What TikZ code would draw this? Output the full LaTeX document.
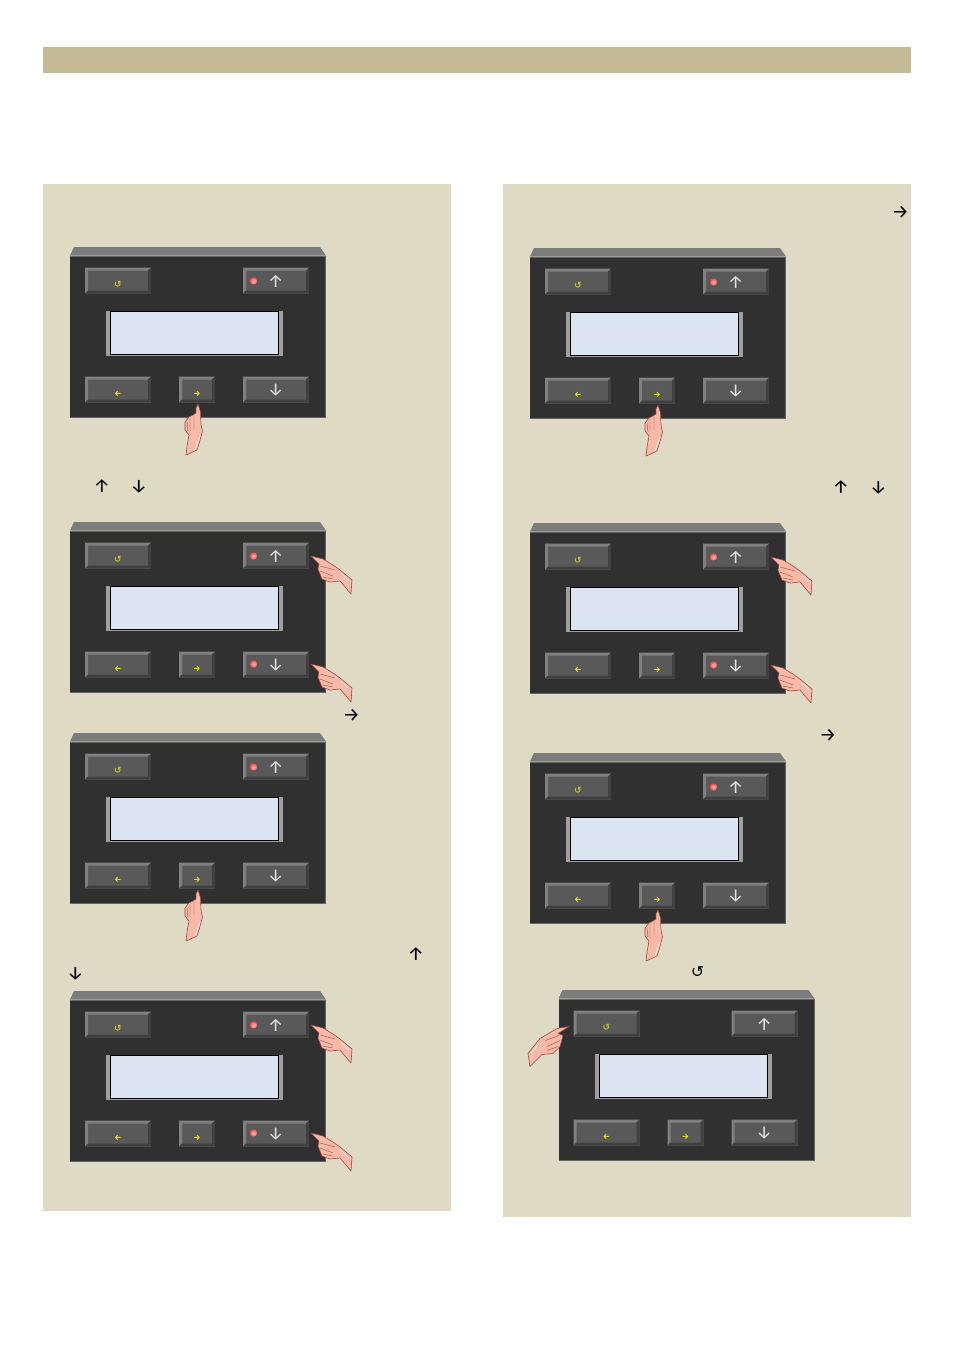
\documentclass[tikz,border=0pt]{standalone}
\usepackage{amssymb, amsmath}
\usepackage{fontspec}
\usepackage{tikz}
\newfontfamily\symfont{DejaVu Sans}
\newfontfamily\arrfont{Fira Sans}

\definecolor{barcol}{HTML}{C4BB96}
\definecolor{pagecol}{HTML}{DEDAC3}
\definecolor{bodycol}{HTML}{303030}
\definecolor{lidcol}{HTML}{7C7C7C}
\definecolor{facecol}{HTML}{595959}
\definecolor{lightcol}{HTML}{7F7F7F}
\definecolor{darkcol}{HTML}{404040}
\definecolor{lcdcol}{HTML}{DBE5F1}
\definecolor{skincol}{HTML}{F7B9A8}
\definecolor{nailcol}{HTML}{A4483C}

\tikzset{
  sheet/.style={fill=pagecol, draw=none},
  keyglyph/.style={inner sep=0pt, text=white!88!black, font=\arrfont\fontsize{18}{18}\selectfont},
  yelglyph/.style={inner sep=0pt, text=yellow!92!black, font=\arrfont\bfseries\fontsize{8}{8}\selectfont},
  relglyph/.style={inner sep=0pt, text=yellow!78!black, font=\symfont\bfseries\fontsize{9}{9}\selectfont},
  txtglyph/.style={inner sep=0pt, text=black, font=\arrfont\fontsize{19}{19}\selectfont},
  backglyph/.style={inner sep=0pt, text=black, font=\symfont\fontsize{16}{16}\selectfont},
  skin/.style={fill=skincol, draw=nailcol, line width=0.6pt, line join=round},
  crease/.style={draw=nailcol, line width=0.4pt},
  pics/handup/.style={code={
    \draw[skin] (0,0) -- (2.5,8) -- (3,20) -- (4.5,27) -- (1,40) -- (-1,46) -- (-12,51) -- (-11,42) -- (-9,31) -- (-13,26) -- (-13,18) -- (-9,13) -- (-5,11) -- (-2,9) -- (-2,4) -- cycle;
    \draw[crease] (-8,14) -- (-8,27) (-11,18) -- (-10,27) (-4,12) -- (-4,25);
    \draw[white, line width=0.6pt] (2,32) -- (-3,46);
  }},
  pics/handleft/.style={code={
    \draw[skin] (0,0) -- (12,3) -- (22,9) -- (29,14) -- (41,24) -- (40,38) -- (29,25) -- (19,26) -- (11,23) -- (7,13) -- (8,8) -- (4,4) -- cycle;
    \draw[crease] (9,10) -- (24,14) (9,15) -- (22,20) (12,21) -- (22,23);
    \draw[white, line width=0.6pt] (30,17) -- (38,25);
  }},
  pics/handright/.style={code={
    \draw[skin] (0,0) -- (-12,2) -- (-29,12) -- (-41,27) -- (-39,40) -- (-27,28) -- (-16,27) -- (-9,20) -- (-6,9) -- (-11,7) -- cycle;
    \draw[crease] (-10,9) -- (-24,14) (-9,14) -- (-22,20) (-11,20) -- (-22,24);
    \draw[white, line width=0.6pt] (-30,17) -- (-38,27);
  }},
}

% one key: left, top, right, bottom
\newcommand{\keycap}[4]{
  \fill[facecol] (#1,#2) rectangle (#3,#4);
  \fill[lightcol] (#1,#2) -- (#3,#2) -- ({#3-3},{#2+3}) -- ({#1+3},{#2+3}) -- ({#1+3},{#4-3}) -- (#1,#4) -- cycle;
  \fill[darkcol] (#3,#2) -- (#3,#4) -- (#1,#4) -- ({#1+3},{#4-3}) -- ({#3-3},{#4-3}) -- ({#3-3},{#2+3}) -- cycle;
}

% control unit: name, x, y
\newcommand{\unit}[3]{
  \begin{scope}[shift={(#2,#3)}]
    \fill[lidcol] (0,0) -- (4,-8.5) -- (250,-8.5) -- (256,0) -- cycle;
    \fill[bodycol] (0,0) rectangle (256,162);
    \draw[darkcol!80!white, line width=1pt] (0,0.5) -- (255.5,0.5) -- (255.5,161.5) -- (0,161.5);
    \keycap{15}{12}{81}{38}
    \keycap{173}{12}{239}{38}
    \keycap{15}{121}{81}{147}
    \keycap{109}{121}{145}{147}
    \keycap{173}{121}{239}{147}
    \fill[gray!75] (36,55) rectangle (213,100);
    \node[draw=black, fill=lcdcol, line width=0.8pt, minimum width=168pt, minimum height=43pt, inner sep=0pt] (#1lcd) at (124.5,77) {};
    \node[relglyph] (#1back) at (48,29) {↺};
    \node[yelglyph] (#1left) at (48,138.5) {←};
    \node[yelglyph] (#1right) at (127,138.5) {→};
    \node[keyglyph] (#1up) at (205.7,26) {↑};
    \node[keyglyph] (#1down) at (205.7,135) {↓};
  \end{scope}
}

\newcommand{\lamp}[2]{
  \shade[inner color=red!20!white, outer color=red!75!white] (#1,#2) circle (3.7);
}

\begin{document}
\begin{tikzpicture}[x=1pt, y=-1pt]
\useasboundingbox (0,0) rectangle (954,1350);
\fill[white] (0,0) rectangle (954,1350);
\fill[barcol] (43,47) rectangle (911,73);
\fill[sheet] (43,184) rectangle (451,1211);
\fill[sheet] (503,184) rectangle (911,1217);

\unit{a}{70}{255.5}
\unit{b}{70}{530.5}
\unit{c}{70}{741.5}
\unit{d}{70}{999.5}
\unit{e}{530}{256.5}
\unit{f}{530}{531.5}
\unit{g}{530}{761.5}
\unit{h}{558.5}{998.5}

% lamps on the up key
\foreach \lx/\ly in {70/255.5, 70/530.5, 70/741.5, 70/999.5, 530/256.5, 530/531.5, 530/761.5}
  \lamp{\lx+183.5}{\ly+25.5};
% lamps on the down key
\foreach \lx/\ly in {70/530.5, 70/999.5, 530/531.5}
  \lamp{\lx+183.5}{\ly+133.5};

% hands
\foreach \lx/\ly in {70/255, 70/741, 530/256, 530/761}
  \pic at (\lx+128,\ly+149) {handup};
\foreach \lx/\ly in {70/530, 70/999, 530/531} {
  \pic at (\lx+241,\ly+26) {handleft};
  \pic at (\lx+241,\ly+134) {handleft};
}
\pic at (569,1026.5) {handright};

% arrows in the text lines
\node[txtglyph] (upa) at (102,486.5) {↑};
\node[txtglyph] (downa) at (139,486.5) {↓};
\node[txtglyph] (righta) at (351.5,715.5) {→};
\node[txtglyph] (upb) at (416,954.5) {↑};
\node[txtglyph] (downb) at (75.5,973.5) {↓};
\node[txtglyph] (rightb) at (900.5,212.5) {→};
\node[txtglyph] (upc) at (841,487.5) {↑};
\node[txtglyph] (downc) at (878.5,487.5) {↓};
\node[txtglyph] (rightc) at (828,735.5) {→};
\node[backglyph] (backa) at (697.5,972.5) {↺};
\end{tikzpicture}
\end{document}
